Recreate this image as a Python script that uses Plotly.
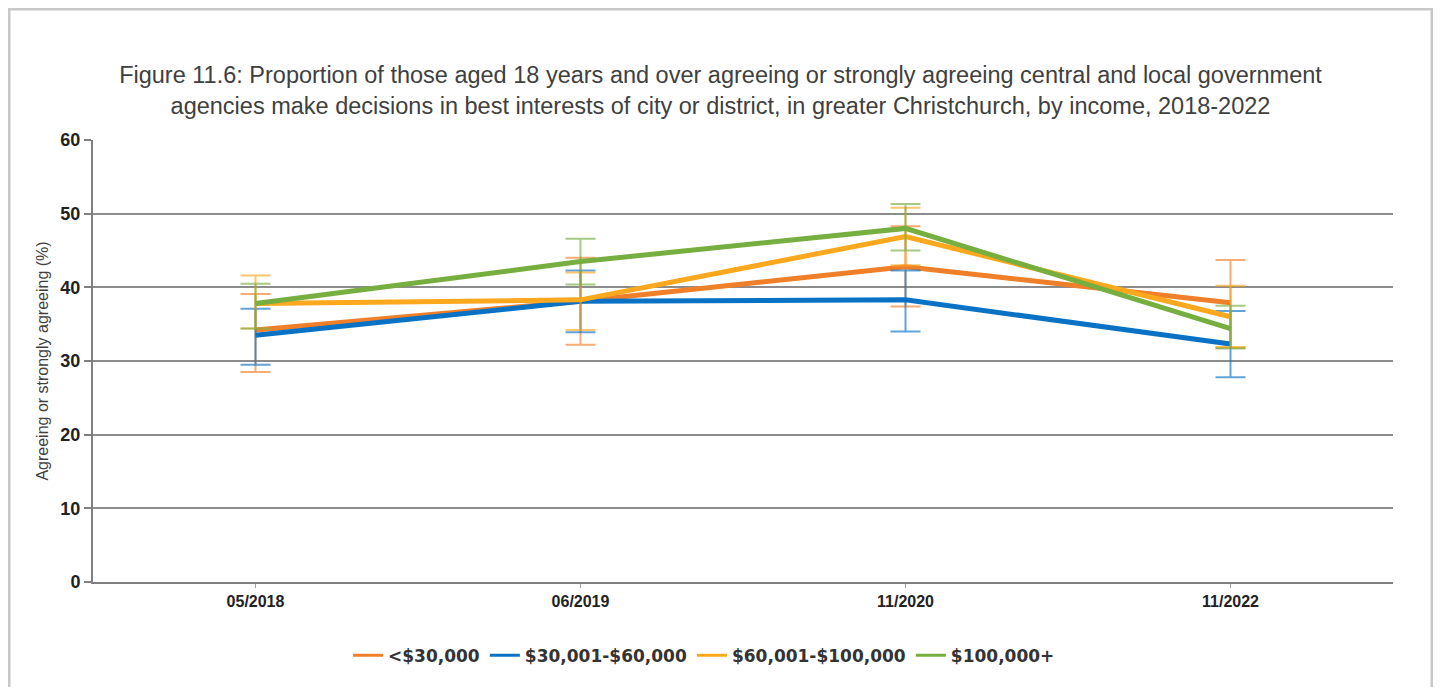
import plotly.graph_objects as go

categories = ["05/2018", "06/2019", "11/2020", "11/2022"]

series_names = ["<$30,000", "$30,001-$60,000", "$60,001-$100,000", "$100,000+"]

under30 = [34.2, 38.1, 42.8, 37.9]
under30_hi = [39.1, 44.0, 48.3, 43.7]
under30_lo = [28.5, 32.2, 37.4, 31.8]

mid30_60 = [33.5, 38.1, 38.3, 32.3]
mid30_60_hi = [37.1, 42.3, 42.3, 36.8]
mid30_60_lo = [29.5, 33.9, 34.0, 27.8]

mid60_100 = [37.8, 38.3, 46.9, 36.0]
mid60_100_hi = [41.6, 42.0, 50.8, 40.2]
mid60_100_lo = [34.4, 34.2, 43.0, 31.9]

over100 = [37.8, 43.5, 48.0, 34.4]
over100_hi = [40.5, 46.6, 51.3, 37.5]
over100_lo = [34.4, 40.4, 45.0, 31.7]

colors = ["#F07F2A", "#0A72C4", "#FBA81E", "#77AE40"]
bar_colors = ["rgba(240,127,42,0.65)", "rgba(10,114,196,0.65)",
              "rgba(251,168,30,0.65)", "rgba(119,174,64,0.65)"]

data = [
    (under30, under30_hi, under30_lo),
    (mid30_60, mid30_60_hi, mid30_60_lo),
    (mid60_100, mid60_100_hi, mid60_100_lo),
    (over100, over100_hi, over100_lo),
]

fig = go.Figure()
for name, (vals, hi, lo), c, bc in zip(series_names, data, colors, bar_colors):
    fig.add_trace(go.Scatter(
        x=categories, y=vals, name=name, mode="lines",
        line=dict(color=c, width=5), showlegend=False, legendgroup=name,
        error_y=dict(type="data", symmetric=False,
                     array=[h - v for h, v in zip(hi, vals)],
                     arrayminus=[v - l for v, l in zip(vals, lo)],
                     color=bc, thickness=2, width=15),
    ))
# legend entries with thinner line symbols
for name, c in zip(series_names, colors):
    fig.add_trace(go.Scatter(
        x=[None], y=[None], name=name, mode="lines",
        line=dict(color=c, width=3), legendgroup=name, showlegend=True,
    ))

fig.update_layout(
    width=1425, height=679,
    paper_bgcolor="white", plot_bgcolor="white",
    margin=dict(l=85, r=40, t=132, b=105),
    title=dict(
        text="Figure 11.6: Proportion of those aged 18 years and over agreeing or strongly agreeing central and local government<br>agencies make decisions in best interests of city or district, in greater Christchurch, by income, 2018-2022",
        x=0.5, xanchor="center", y=0.8895, yanchor="middle",
        font=dict(family="Liberation Sans, Arial", size=23.5, color="#404040"),
    ),
    showlegend=True,
    legend=dict(orientation="h", x=0.47, xanchor="center", y=-0.167, yanchor="middle",
                font=dict(family="DejaVu Sans, Liberation Sans", size=17,
                          color="#333333", weight="bold"),
                itemwidth=30, traceorder="normal"),
    font=dict(family="Liberation Sans, Arial", color="#333333"),
)

fig.update_xaxes(
    type="category", range=[-0.5, 3.5],
    showline=True, linecolor="#808080", linewidth=2,
    showgrid=False, ticks="outside", ticklen=4, tickcolor="#a0a0a0", tickwidth=1,
    tickfont=dict(family="Liberation Sans, Arial", size=16, color="#222222", weight="bold"),
)
fig.update_yaxes(
    range=[0, 60], dtick=10,
    showline=True, linecolor="#808080", linewidth=2,
    showgrid=True, gridcolor="#8c8c8c", gridwidth=1.5,
    ticks="outside", ticklen=7, tickcolor="#808080", tickwidth=2,
    tickfont=dict(family="Liberation Sans, Arial", size=18, color="#222222", weight="bold"),
    title=dict(text="Agreeing or strongly agreeing (%)",
               font=dict(family="Liberation Sans, Arial", size=16, color="#404040"),
               standoff=8),
    zeroline=False,
)

fig.add_shape(type="rect", xref="paper", yref="paper",
              x0=-0.0646, x1=1.03, y0=-0.3, y1=1.2964,
              line=dict(color="#c8c8c8", width=3), layer="below")

fig.write_html("out.html")
